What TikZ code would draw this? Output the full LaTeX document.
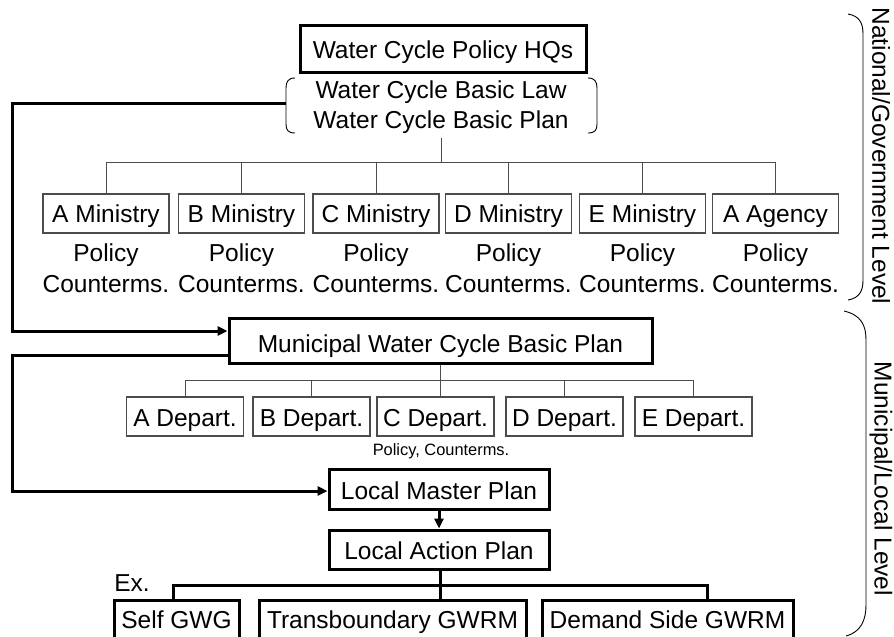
\documentclass[tikz,border=0pt]{standalone}
\usepackage{fontspec}
\setmainfont{Liberation Sans}
\usetikzlibrary{arrows.meta}
\begin{document}
\begin{tikzpicture}[x=1pt,y=-1pt,
  every node/.style={font=\fontsize{24.5}{30}\selectfont, inner sep=0pt, align=center},
  bl/.style={text height=#1, text depth=5pt},
  thickbox/.style={draw, line width=3pt},
  thinbox/.style={draw=black!70, line width=1.2pt},
  thinline/.style={draw=black!70, line width=1pt},
  thickline/.style={draw=black, line width=3pt},
  brace/.style={draw=black, line width=0.9pt},
  arr/.style={-{Triangle[length=10pt,width=9pt]}},
  smalltext/.style={font=\fontsize{16.4}{19}\selectfont},
  ministry/.style={thinbox, minimum width=126pt, minimum height=39pt, bl=23.4pt},
  depart/.style={thinbox, minimum width=117pt, minimum height=39pt, bl=25pt},
  policy/.style={font=\fontsize{24.5}{31}\selectfont}
]
\useasboundingbox (0,0) rectangle (894,637);

% National level
\node[thickbox, minimum width=286pt, minimum height=47pt, bl=24pt] (hq) at (443,48.5) {Water Cycle Policy HQs};
\node[inner sep=4pt] (lawplan) at (441,107) {Water Cycle Basic Law\\Water Cycle Basic Plan};
\coordinate (lawL) at (286,103);
\draw[brace] (295,78) .. controls (288,78) and (286,82) .. (286,88) -- (286,124) .. controls (286,130) and (288,133) .. (295,133);
\draw[brace] (588,78) .. controls (595,78) and (597,82) .. (597,88) -- (597,124) .. controls (597,130) and (595,133) .. (588,133);

\node[ministry] (mA) at (106,213.5) {A Ministry};
\node[ministry] (mB) at (241.5,213.5) {B Ministry};
\node[ministry] (mC) at (376,213.5) {C Ministry};
\node[ministry] (mD) at (508.5,213.5) {D Ministry};
\node[ministry] (mE) at (642.5,213.5) {E Ministry};
\node[ministry] (mF) at (775.5,213.5) {A Agency};

\foreach \n/\x in {pA/106,pB/241.5,pC/376,pD/508.5,pE/642.5,pF/775.5}
  \node[policy] (\n) at (\x,268) {Policy\\Counterms.};

\coordinate (bus1) at (440,162);
\draw[thinline] (lawplan.south) -- (lawplan.south |- bus1);
\draw[thinline] (mA.north |- bus1) -- (mF.north |- bus1);
\foreach \m in {mA,mB,mC,mD,mE,mF}
  \draw[thinline] (\m.north) -- (\m.north |- bus1);

% Municipal level
\node[thickbox, minimum width=423pt, minimum height=45pt, bl=29pt] (muni) at (440.5,340.5) {Municipal Water Cycle Basic Plan};

\node[depart] (dA) at (185,416.5) {A Depart.};
\node[depart] (dB) at (311.5,416.5) {B Depart.};
\node[depart] (dC) at (435.5,416.5) {C Depart.};
\node[depart] (dD) at (564.5,416.5) {D Depart.};
\node[depart] (dE) at (693.5,416.5) {E Depart.};
\node[smalltext] (pc) at (441,451) {Policy, Counterms.};

\coordinate (bus2) at (440,380);
\draw[thinline] (muni.south -| bus2) -- (dC.north -| bus2);
\draw[thinline] (dA.north |- bus2) -- (dE.north |- bus2);
\foreach \m in {dA,dB,dD,dE}
  \draw[thinline] (\m.north) -- (\m.north |- bus2);

\node[thickbox, minimum width=220pt, minimum height=40pt, bl=25pt] (master) at (439,489) {Local Master Plan};
\node[thickbox, minimum width=220pt, minimum height=39pt, bl=25pt] (action) at (439,549.5) {Local Action Plan};
\draw[thickline, arr] (master.south) -- (action.north);

\node (ex) at (132,583) {Ex.};
\node[thickbox, minimum width=125pt, minimum height=45pt, bl=16pt] (self) at (176.5,622.5) {Self GWG};
\node[thickbox, minimum width=267pt, minimum height=45pt, bl=16pt] (trans) at (392.5,622.5) {Transboundary GWRM};
\node[thickbox, minimum width=251pt, minimum height=45pt, bl=16pt] (demand) at (667.5,622.5) {Demand Side GWRM};

\coordinate (b3L) at (173,585);
\coordinate (b3M) at (440,585);
\coordinate (b3R) at (707,585);
\draw[thickline] (action.south -| b3M) -- (trans.north -| b3M);
\draw[thickline] (self.north -| b3L) -- (b3L) -- (b3R) -- (demand.north -| b3R);

% Feedback loops
\coordinate (c1) at (12,103);
\draw[thickline, arr] (lawL) -- (c1) |- ([yshift=9.5pt]muni.west);
\coordinate (c2) at (12,355);
\draw[thickline, arr] ([yshift=-14.5pt]muni.west) -- (c2) |- ([yshift=-2pt]master.west);

% Level braces
\draw[brace] (848,14) .. controls (860,16) and (863,24) .. (863,34) -- (863,280) .. controls (863,290) and (860,298) .. (848,300);
\draw[brace] (844,311) .. controls (861,315) and (866,325) .. (866,340) -- (866,605) .. controls (866,620) and (861,632) .. (846,636);
\node[rotate=-90] (natl) at (881,156) {National/Government Level};
\node[rotate=-90] (munl) at (881,479) {Municipal/Local Level};
\end{tikzpicture}
\end{document}
